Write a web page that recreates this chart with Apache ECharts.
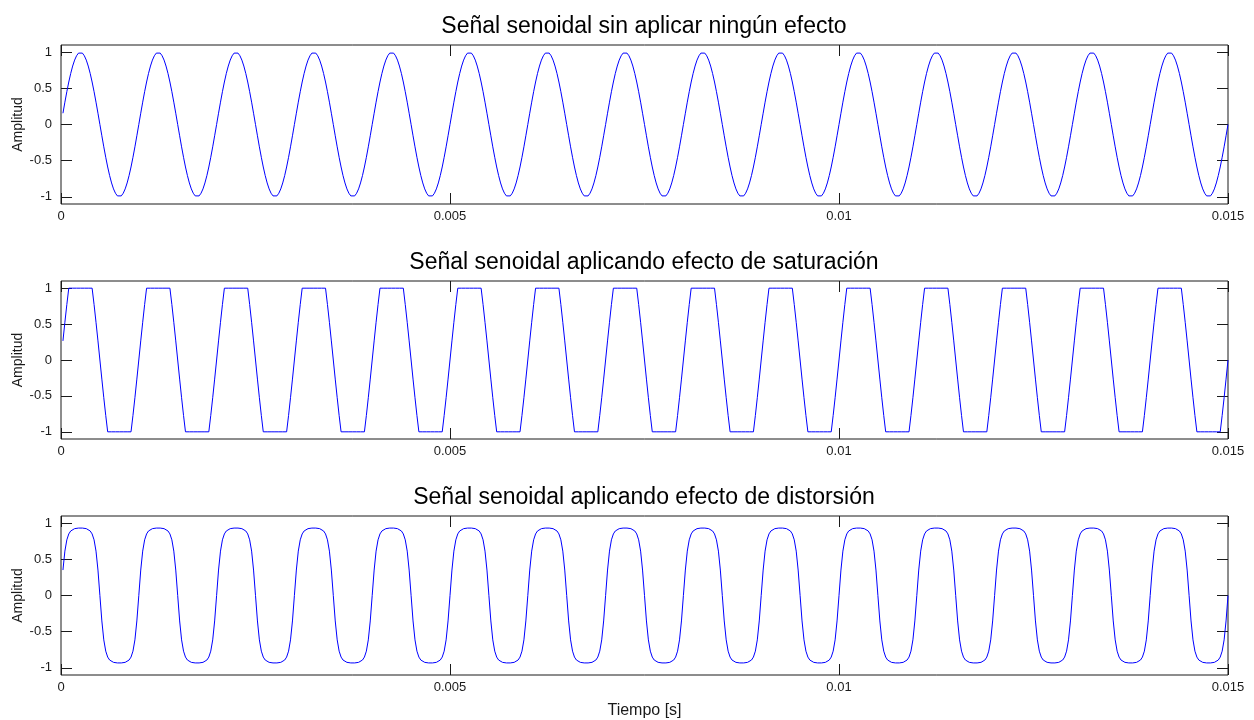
<!DOCTYPE html>
<html>
<head>
<meta charset="utf-8">
<title>Señal senoidal</title>
<script src="https://cdn.jsdelivr.net/npm/echarts@6/dist/echarts.min.js"></script>
<style>
    html, body { margin: 0; padding: 0; background: #fff; }
    #main { width: 1254px; height: 720px; }
</style>
</head>
<body>
<div id="main"></div>
<script>
// one period (1 ms), 40 samples per period
let sineCycle = [0, 0.156, 0.309, 0.454, 0.588, 0.707, 0.809, 0.891, 0.951, 0.988,
    1, 0.988, 0.951, 0.891, 0.809, 0.707, 0.588, 0.454, 0.309, 0.156,
    0, -0.156, -0.309, -0.454, -0.588, -0.707, -0.809, -0.891, -0.951, -0.988,
    -1, -0.988, -0.951, -0.891, -0.809, -0.707, -0.588, -0.454, -0.309, -0.156];
let saturationCycle = [0, 0.266, 0.525, 0.772, 1, 1, 1, 1, 1, 1,
    1, 1, 1, 1, 1, 1, 1, 0.772, 0.525, 0.266,
    0, -0.266, -0.525, -0.772, -1, -1, -1, -1, -1, -1,
    -1, -1, -1, -1, -1, -1, -1, -0.772, -0.525, -0.266];
let distortionCycle = [0, 0.352, 0.614, 0.770, 0.852, 0.893, 0.914, 0.925, 0.931, 0.933,
    0.934, 0.933, 0.931, 0.925, 0.914, 0.893, 0.852, 0.770, 0.614, 0.352,
    0, -0.352, -0.614, -0.770, -0.852, -0.893, -0.914, -0.925, -0.931, -0.933,
    -0.934, -0.933, -0.931, -0.925, -0.914, -0.893, -0.852, -0.770, -0.614, -0.352];

let sampleStep = 0.000025;   // s
let periodsShown = 15;
let titles = ['Señal senoidal sin aplicar ningún efecto',
    'Señal senoidal aplicando efecto de saturación',
    'Señal senoidal aplicando efecto de distorsión'];
let xTicks = [0, 0.005, 0.01, 0.015];
let yTicks = [-1, -0.5, 0, 0.5, 1];

(function() {
    let font = "'Liberation Sans', Arial, sans-serif";
    let ink = '#1a1a1a';
    let cycles = [sineCycle, saturationCycle, distortionCycle];
    let gridTops = [45, 281, 516];
    let gridHeights = [159, 158, 159];

    function buildSeries(cycle) {
        let pts = [];
        let n = cycle.length * periodsShown;
        for (let i = 1; i <= n; i++) {
            pts.push([Number((i * sampleStep).toFixed(6)), cycle[i % cycle.length]]);
        }
        return pts;
    }

    let title = [], grid = [], xAxis = [], yAxis = [], series = [];
    cycles.forEach(function(cycle, g) {
        title.push({
            text: titles[g],
            left: 644, top: gridTops[g] - 30, textAlign: 'center', padding: 0,
            textStyle: {fontFamily: font, fontSize: 23, fontWeight: 'normal', color: '#000'}
        });
        grid.push({
            left: 61, right: 26, top: gridTops[g], height: gridHeights[g],
            outerBoundsMode: 'none', containLabel: false,
            show: true, borderColor: ink, borderWidth: 1, backgroundColor: '#fff'
        });
        let xBase = {
            type: 'value', gridIndex: g, min: xTicks[0], max: xTicks[xTicks.length - 1],
            interval: 0.005,
            axisLine: {show: false, onZero: false}, splitLine: {show: false},
            axisTick: {show: true, inside: true, length: 11, lineStyle: {color: ink}}
        };
        xAxis.push(Object.assign({}, xBase, {
            position: 'bottom',
            axisLabel: {show: true, margin: 6, fontFamily: font, fontSize: 13, color: ink},
            name: g === 2 ? 'Tiempo [s]' : '',
            nameLocation: 'middle', nameGap: 28, nameMoveOverlap: false,
            nameTextStyle: {fontFamily: font, fontSize: 16, color: ink}
        }));
        xAxis.push(Object.assign({}, xBase, {position: 'top', axisLabel: {show: false}}));
        let yBase = {
            type: 'value', gridIndex: g, min: -1.1, max: 1.1,
            axisLine: {show: false, onZero: false}, splitLine: {show: false},
            axisTick: {show: true, inside: true, length: 11, customValues: yTicks, lineStyle: {color: ink}}
        };
        yAxis.push(Object.assign({}, yBase, {
            position: 'left',
            axisLabel: {show: true, margin: 9, customValues: yTicks, fontFamily: font, fontSize: 13, color: ink},
            name: 'Amplitud', nameLocation: 'middle', nameGap: 36, nameMoveOverlap: false,
            nameTextStyle: {fontFamily: font, fontSize: 14, color: ink}
        }));
        yAxis.push(Object.assign({}, yBase, {position: 'right', axisLabel: {show: false}}));
        series.push({
            type: 'line', xAxisIndex: 2 * g, yAxisIndex: 2 * g,
            data: buildSeries(cycle),
            showSymbol: false, symbol: 'none', silent: true,
            lineStyle: {color: '#0000ff', width: 1}
        });
    });

    let chart = echarts.init(document.getElementById('main'), null, {renderer: 'canvas'});
    chart.setOption({
        animation: false,
        backgroundColor: '#fff',
        title: title, grid: grid, xAxis: xAxis, yAxis: yAxis, series: series
    });
})();
</script>
</body>
</html>
